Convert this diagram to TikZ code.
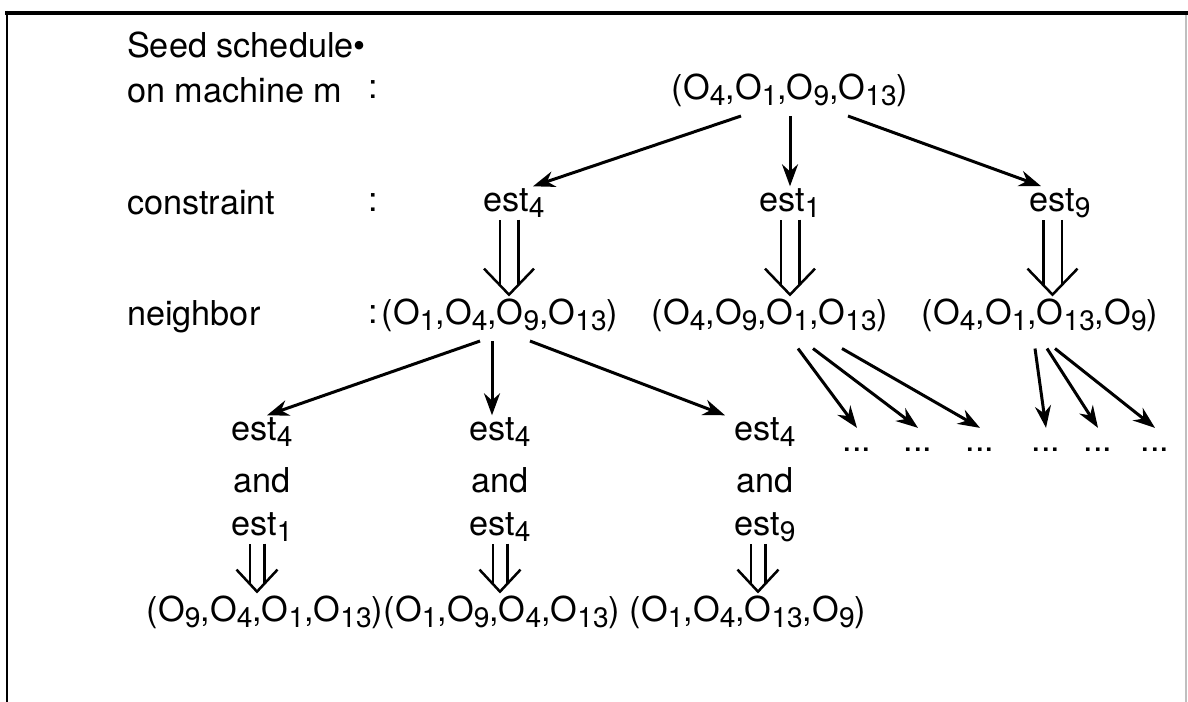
\documentclass[tikz,border=0pt]{standalone}
\usepackage{fontspec}
\setmainfont{TeX Gyre Heros}
\usetikzlibrary{arrows.meta}

\newcommand{\ix}[1]{\raisebox{-0.35ex}{\fontsize{16}{18}\selectfont#1}}

\tikzset{
  txt/.style={inner sep=1pt, font=\fontsize{19.5}{23}\selectfont},
  arr/.style={line width=0.06cm, -{Stealth[length=0.44cm, width=0.32cm]}},
  dbl/.style={draw=white, line width=0.03cm,
    -{Straight Barb[color=black, line width=0.05cm, length=0.52cm, width=1.0cm]},
    preaction={draw=black, double, double distance=0.32cm, line width=0.05cm, shorten >=0.22cm, -}},
  dblSmall/.style={draw=white, line width=0.03cm,
    -{Straight Barb[color=black, line width=0.05cm, length=0.44cm, width=0.82cm]},
    preaction={draw=black, double, double distance=0.24cm, line width=0.05cm, shorten >=0.18cm, -}},
  dots/.style={txt, inner xsep=0pt, inner ysep=0.4cm}
}

\begin{document}
\begin{tikzpicture}
  \useasboundingbox (0,0) rectangle (23.76,-14.04);
  % frame
  \draw[line width=0.08cm] (0.1,-0.26) -- (23.76,-0.26);
  \draw[line width=0.05cm] (0.14,-0.22) -- (0.14,-14.04);
  \draw[line width=0.03cm, black!25] (23.72,-0.3) -- (23.72,-14.04);
  % row labels
  \node[txt, anchor=west] (seedText) at (2.5,-0.9) {Seed schedule\textbullet};
  \node[txt, anchor=west] (machineText) at (2.5,-1.8) {on machine m};
  \node[txt, anchor=west] (constraintText) at (2.5,-4.06) {constraint};
  \node[txt, anchor=west] (neighborText) at (2.5,-6.34) {neighbor};
  \node[txt] (colonA) at (7.46,-1.8) {:};
  \node[txt] (colonB) at (7.46,-4.06) {:};
  \node[txt] (colonC) at (7.46,-6.3) {:};
  % seed schedule
  \node[txt] (seedTuple) at (15.8,-1.8) {(O\ix{4},O\ix{1},O\ix{9},O\ix{13})};
  % constraints
  \node[txt] (estFour) at (10.28,-4.06) {est\ix{4}};
  \node[txt] (estOne) at (15.8,-4.06) {est\ix{1}};
  \node[txt] (estNine) at (21.2,-4.06) {est\ix{9}};
  % neighbors
  \node[txt] (nbrOne) at (10.0,-6.3) {(O\ix{1},O\ix{4},O\ix{9},O\ix{13})};
  \node[txt] (nbrTwo) at (15.4,-6.3) {(O\ix{4},O\ix{9},O\ix{1},O\ix{13})};
  \node[txt] (nbrThree) at (20.8,-6.3) {(O\ix{4},O\ix{1},O\ix{13},O\ix{9})};
  % second constraints
  \node[txt] (leftTop) at (5.24,-8.64) {est\ix{4}};
  \node[txt] (leftAnd) at (5.24,-9.6) {and};
  \node[txt] (leftBot) at (5.24,-10.54) {est\ix{1}};
  \node[txt] (midTop) at (10.0,-8.64) {est\ix{4}};
  \node[txt] (midAnd) at (10.0,-9.6) {and};
  \node[txt] (midBot) at (10.0,-10.54) {est\ix{4}};
  \node[txt] (rightTop) at (15.3,-8.64) {est\ix{4}};
  \node[txt] (rightAnd) at (15.3,-9.6) {and};
  \node[txt] (rightBot) at (15.3,-10.54) {est\ix{9}};
  % results
  \node[txt] (resOne) at (5.3,-12.24) {(O\ix{9},O\ix{4},O\ix{1},O\ix{13})};
  \node[txt] (resTwo) at (10.04,-12.24) {(O\ix{1},O\ix{9},O\ix{4},O\ix{13})};
  \node[txt] (resThree) at (14.96,-12.24) {(O\ix{1},O\ix{4},O\ix{13},O\ix{9})};
  % open ends
  \node[dots] (dotA) at (17.14,-9.0) {...};
  \node[dots] (dotB) at (18.36,-9.0) {...};
  \node[dots] (dotC) at (19.6,-9.0) {...};
  \node[dots] (dotD) at (20.92,-9.0) {...};
  \node[dots] (dotE) at (21.96,-9.0) {...};
  \node[dots] (dotF) at (23.1,-9.0) {...};
  % arrows
  \draw[arr] ([xshift=-0.98cm,yshift=-0.15cm]seedTuple.south) -- ([xshift=0.38cm]estFour.north);
  \draw[arr] ([yshift=-0.15cm]seedTuple.south) -- (estOne.north);
  \draw[arr] ([xshift=1.16cm,yshift=-0.15cm]seedTuple.south) -- ([xshift=-0.38cm]estNine.north);
  \draw[dbl] ([xshift=-0.1cm]estFour.south) -- ([xshift=-0.1cm]estFour.south |- nbrOne.north);
  \draw[dbl] (estOne.south) -- (estOne.south |- nbrTwo.north);
  \draw[dbl] ([xshift=-0.15cm]estNine.south) -- ([xshift=-0.15cm]estNine.south |- nbrThree.north);
  \draw[arr] ([xshift=-0.4cm,yshift=-0.15cm]nbrOne.south) -- ([xshift=0.1cm]leftTop.north);
  \draw[arr] ([xshift=-0.16cm,yshift=-0.15cm]nbrOne.south) -- ([xshift=-0.16cm]nbrOne.south |- midTop.north);
  \draw[arr] ([xshift=0.6cm,yshift=-0.15cm]nbrOne.south) -- ([xshift=-0.8cm]rightTop.north);
  \draw[arr] ([xshift=0.56cm,yshift=-0.3cm]nbrTwo.south) -- (dotA.north);
  \draw[arr] ([xshift=0.86cm,yshift=-0.3cm]nbrTwo.south) -- (dotB.north);
  \draw[arr] ([xshift=1.44cm,yshift=-0.3cm]nbrTwo.south) -- (dotC.north);
  \draw[arr] ([xshift=-0.1cm,yshift=-0.3cm]nbrThree.south) -- (dotD.north);
  \draw[arr] ([xshift=0.14cm,yshift=-0.3cm]nbrThree.south) -- (dotE.north);
  \draw[arr] ([xshift=0.3cm,yshift=-0.3cm]nbrThree.south) -- (dotF.north);
  \draw[dblSmall] ([xshift=-0.1cm]leftBot.south) -- ([xshift=-0.1cm]leftBot.south |- resOne.north);
  \draw[dblSmall] (midBot.south) -- (midBot.south |- resTwo.north);
  \draw[dblSmall] ([xshift=-0.14cm]rightBot.south) -- ([xshift=-0.14cm]rightBot.south |- resThree.north);
\end{tikzpicture}
\end{document}
